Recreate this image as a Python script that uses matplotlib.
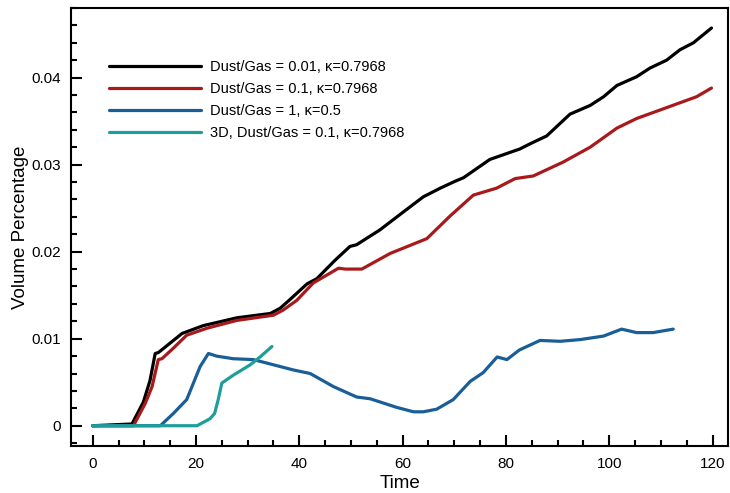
import numpy as np
import matplotlib
matplotlib.use('Agg')
from matplotlib import pyplot as plt
from matplotlib.ticker import MultipleLocator

plt.rcParams['font.family'] = ['Liberation Sans', 'DejaVu Sans']

# Dust/Gas = 0.01, kappa=0.7968
t_black = [0, 7.6, 9.8, 11.1, 12.1, 12.7, 15.0, 17.3, 21.4, 27.9, 34.4, 36.3, 38.2,
           41.5, 43.4, 46.9, 49.8, 51.1, 55.6, 58.9, 64.0, 67.3, 70.2, 71.8, 76.9,
           82.7, 84.7, 87.9, 92.4, 96.3, 98.9, 101.5, 105.3, 107.9, 111.1, 113.7, 116.3, 119.8]
v_black = [0, 0.0002, 0.0027, 0.0052, 0.0083, 0.0084, 0.0095, 0.0106, 0.0115, 0.0124, 0.0129, 0.0135, 0.0145,
           0.0163, 0.0169, 0.0190, 0.0206, 0.0208, 0.0225, 0.0240, 0.0263, 0.0273, 0.0281, 0.0285, 0.0306,
           0.0318, 0.0324, 0.0333, 0.0358, 0.0368, 0.0378, 0.0391, 0.0401, 0.0411, 0.0420, 0.0432, 0.0440, 0.0457]

# Dust/Gas = 0.1, kappa=0.7968
t_red = [0, 7.9, 10.2, 11.5, 12.7, 13.4, 15.6, 18.2, 22.1, 27.9, 35.0, 36.9, 39.5,
         42.7, 47.6, 48.9, 52.1, 57.6, 64.7, 69.2, 73.7, 78.2, 81.8, 85.3, 91.1,
         96.3, 101.5, 105.3, 111.8, 116.9, 119.8]
v_red = [0, 0.0, 0.0026, 0.0045, 0.0076, 0.0077, 0.0089, 0.0104, 0.0112, 0.0121, 0.0127, 0.0133, 0.0144,
         0.0164, 0.0181, 0.0180, 0.0180, 0.0198, 0.0215, 0.0241, 0.0265, 0.0273, 0.0284, 0.0287, 0.0303,
         0.0320, 0.0342, 0.0353, 0.0367, 0.0378, 0.0388]

# Dust/Gas = 1, kappa=0.5
t_blue = [0, 13.1, 15.6, 18.2, 20.8, 22.4, 24.0, 27.2, 31.1, 35.0, 38.9, 42.1, 46.6,
          51.1, 53.7, 58.9, 62.1, 64.0, 66.6, 69.8, 73.1, 75.6, 78.3, 80.2, 82.6,
          86.6, 90.5, 94.4, 98.9, 102.4, 105.3, 108.5, 112.4]
v_blue = [0, 0, 0.0014, 0.0030, 0.0068, 0.0083, 0.0080, 0.0077, 0.0076, 0.0070, 0.0064, 0.0060, 0.0045,
          0.0033, 0.0031, 0.0021, 0.0016, 0.0016, 0.0019, 0.0030, 0.0051, 0.0061, 0.0079, 0.0076, 0.0087,
          0.0098, 0.0097, 0.0099, 0.0103, 0.0111, 0.0107, 0.0107, 0.0111]

# 3D, Dust/Gas = 0.1, kappa=0.7968
t_teal = [0, 20.2, 22.7, 23.6, 24.3, 25.0, 27.2, 30.5, 32.4, 34.7]
v_teal = [0, 0, 0.0008, 0.0014, 0.0030, 0.0049, 0.0058, 0.0070, 0.0079, 0.0091]

labels = ['Dust/Gas = 0.01, κ=0.7968', 'Dust/Gas = 0.1, κ=0.7968',
          'Dust/Gas = 1, κ=0.5', '3D, Dust/Gas = 0.1, κ=0.7968']
colors = ['#000000', '#a8191b', '#1a5e98', '#1e9e9a']

fig = plt.figure(figsize=(7.3, 4.93), dpi=100)
ax = fig.add_axes([71/730, 1-446/493, (728-71)/730, (446-8)/493])

for t, v, c, lab in zip([t_black, t_red, t_blue, t_teal], [v_black, v_red, v_blue, v_teal], colors, labels):
    ax.plot(t, v, color=c, lw=2.3, label=lab, solid_capstyle='round', solid_joinstyle='round')

ax.set_xlim(-4.2, 123)
ax.set_ylim(-0.00233, 0.048)
ax.xaxis.set_major_locator(MultipleLocator(20))
ax.xaxis.set_minor_locator(MultipleLocator(5))
ax.yaxis.set_minor_locator(MultipleLocator(0.002))
ax.set_yticks([0, 0.01, 0.02, 0.03, 0.04])
ax.set_yticklabels(['0', '0.01', '0.02', '0.03', '0.04'])
ax.tick_params(which='both', direction='in', width=1.5, labelsize=11, right=False, top=False)
ax.tick_params(which='major', length=8)
ax.tick_params(which='minor', length=4.5)
ax.tick_params(axis='y', which='major', pad=7)
ax.tick_params(axis='x', which='major', pad=8)
for sp in ax.spines.values():
    sp.set_linewidth(1.5)

ax.set_xlabel('Time', fontsize=13.5, labelpad=3)
ax.set_ylabel('Volume Percentage', fontsize=13.5, labelpad=2)

ax.legend(loc='upper left', bbox_to_anchor=(109/730, 1-60/493), bbox_transform=fig.transFigure,
          frameon=False, fontsize=10.5, handlelength=6.3, handletextpad=0.6,
          labelspacing=0.55, borderpad=0, borderaxespad=0)

fig.savefig('out.png', dpi=100)
